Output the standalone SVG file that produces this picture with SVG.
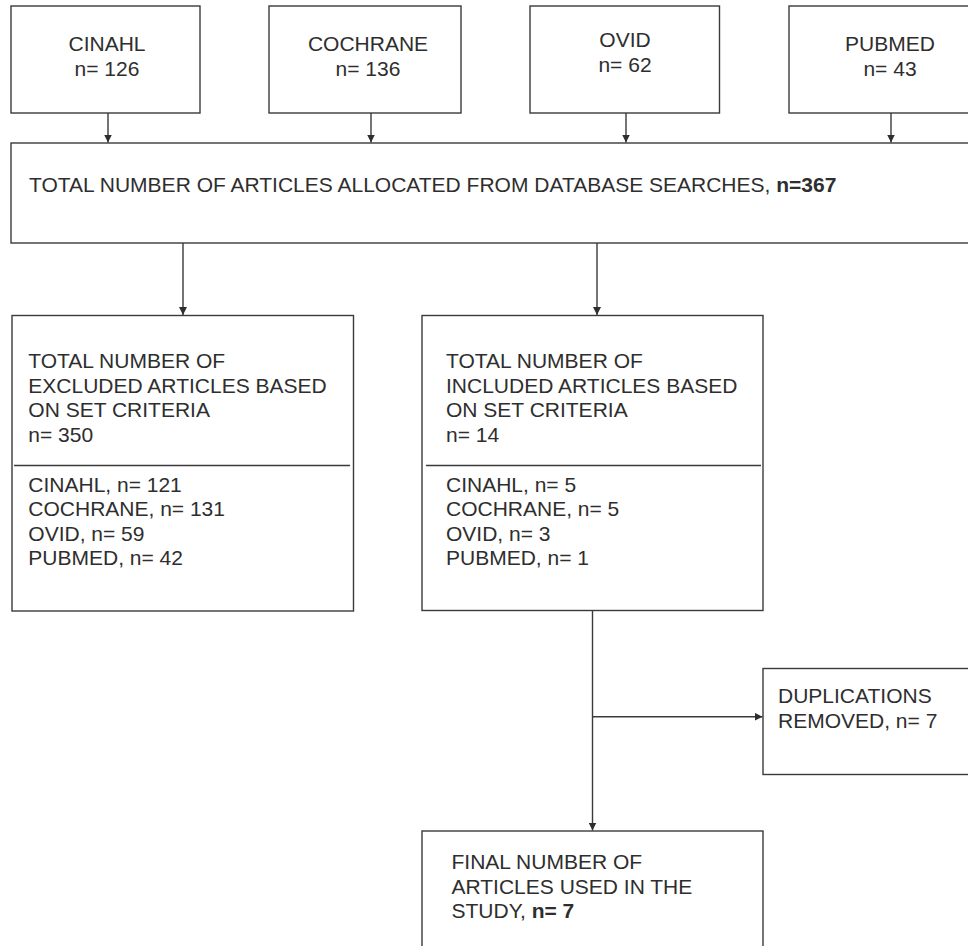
<svg xmlns="http://www.w3.org/2000/svg" width="968" height="946" viewBox="0 0 968 946">
<style>
.box{fill:#fff;stroke:#3a3a3a;stroke-width:1.4}
.ln{fill:none;stroke:#3a3a3a;stroke-width:1.4}
text{font-family:"Liberation Sans",Arial,sans-serif;font-size:21px;fill:#2e2e2e}
.c{text-anchor:middle}
.b{font-weight:bold}
</style>
<defs>
<marker id="ah" viewBox="0 0 10 10" refX="10" refY="5" markerWidth="8" markerHeight="8" markerUnits="userSpaceOnUse" orient="auto">
<path d="M0,0 L10,5 L0,10 z" fill="#2e2e2e"/>
</marker>
</defs>
<rect width="968" height="946" fill="#fff"/>
<g id="cinahl">
<rect class="box" x="11" y="6" width="189" height="107"/>
<text class="c" x="107" y="50.5">CINAHL</text>
<text class="c" x="107" y="76">n= 126</text>
</g>
<g id="cochrane">
<rect class="box" x="269" y="6" width="192" height="107"/>
<text class="c" x="368" y="50.5">COCHRANE</text>
<text class="c" x="368" y="76">n= 136</text>
</g>
<g id="ovid">
<rect class="box" x="530" y="6" width="189.5" height="107"/>
<text class="c" x="625" y="46.5">OVID</text>
<text class="c" x="625" y="71.5">n= 62</text>
</g>
<g id="pubmed">
<rect class="box" x="789" y="6" width="202" height="107"/>
<text class="c" x="890" y="50.5">PUBMED</text>
<text class="c" x="890" y="75.5">n= 43</text>
</g>
<g id="total">
<rect class="box" x="11" y="143" width="990" height="100"/>
<text x="29" y="192">TOTAL NUMBER OF ARTICLES ALLOCATED FROM DATABASE SEARCHES, <tspan class="b">n=367</tspan></text>
</g>
<g id="excluded">
<rect class="box" x="12" y="315.5" width="341.5" height="295.5"/>
<line class="ln" x1="14" y1="465.5" x2="350" y2="465.5"/>
<text x="28.3" y="368">TOTAL NUMBER OF</text>
<text x="28.3" y="392.5">EXCLUDED ARTICLES BASED</text>
<text x="28.3" y="417">ON SET CRITERIA</text>
<text x="28.3" y="441.5">n= 350</text>
<text x="28.3" y="491.5">CINAHL, n= 121</text>
<text x="28.3" y="516">COCHRANE, n= 131</text>
<text x="28.3" y="540.5">OVID, n= 59</text>
<text x="28.3" y="565">PUBMED, n= 42</text>
</g>
<g id="included">
<rect class="box" x="422" y="315.5" width="341" height="295"/>
<line class="ln" x1="426" y1="465.5" x2="761" y2="465.5"/>
<text x="446" y="368">TOTAL NUMBER OF</text>
<text x="446" y="392.5">INCLUDED ARTICLES BASED</text>
<text x="446" y="417">ON SET CRITERIA</text>
<text x="446" y="441.5">n= 14</text>
<text x="446" y="491.5">CINAHL, n= 5</text>
<text x="446" y="516">COCHRANE, n= 5</text>
<text x="446" y="540.5">OVID, n= 3</text>
<text x="446" y="565">PUBMED, n= 1</text>
</g>
<g id="duplications">
<rect class="box" x="763" y="668.5" width="240" height="106"/>
<text x="778" y="703">DUPLICATIONS</text>
<text x="778" y="728">REMOVED, n= 7</text>
</g>
<g id="final">
<rect class="box" x="422" y="831" width="341" height="140"/>
<text x="451.5" y="869">FINAL NUMBER OF</text>
<text x="451.5" y="893.5">ARTICLES USED IN THE</text>
<text x="451.5" y="918">STUDY, <tspan class="b">n= 7</tspan></text>
</g>
<g id="connectors">
<line class="ln" x1="108" y1="113" x2="108" y2="142.5" marker-end="url(#ah)"/>
<line class="ln" x1="371" y1="113" x2="371" y2="142.5" marker-end="url(#ah)"/>
<line class="ln" x1="626" y1="113" x2="626" y2="142.5" marker-end="url(#ah)"/>
<line class="ln" x1="891" y1="113" x2="891" y2="142.5" marker-end="url(#ah)"/>
<line class="ln" x1="183" y1="243" x2="183" y2="315" marker-end="url(#ah)"/>
<line class="ln" x1="597" y1="243" x2="597" y2="315" marker-end="url(#ah)"/>
<line class="ln" x1="592.5" y1="610.5" x2="592.5" y2="830.5" marker-end="url(#ah)"/>
<line class="ln" x1="592.5" y1="716.7" x2="762.5" y2="716.7" marker-end="url(#ah)"/>
</g>
</svg>
